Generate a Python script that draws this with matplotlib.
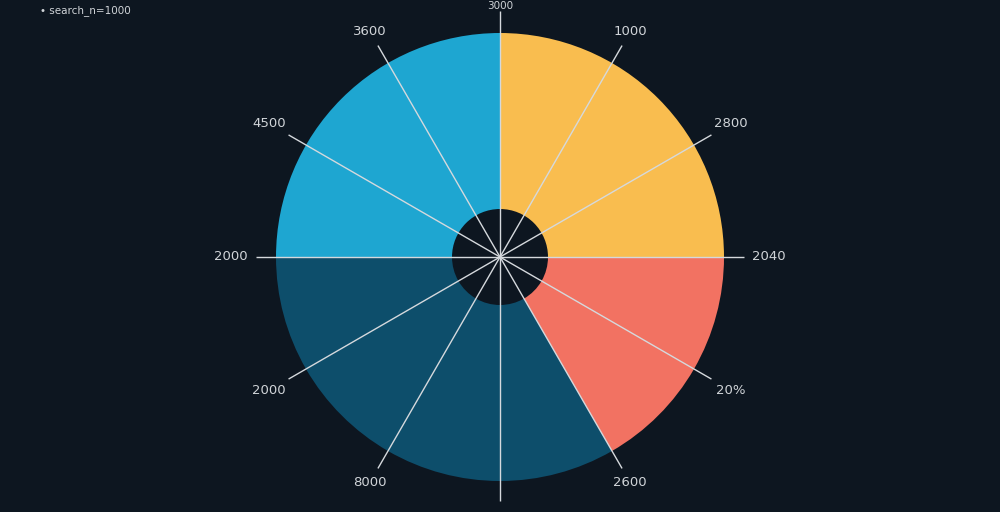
import numpy as np
import matplotlib
matplotlib.use("Agg")
import matplotlib.pyplot as plt

# ---- data ----
segment_values = [3, 4, 2, 3]          # blue, dark blue, salmon, yellow (counter-clockwise from top)
segment_colors = ["#1EA6D1", "#0D4E6B", "#F27262", "#F9BD4F"]
spoke_angles = [0, 30, 60, 90, 120, 150, 180, 210, 240, 270, 300, 330]
spoke_labels = ["2040", "2800", "1000", "3000", "3600", "4500",
                "2000", "2000", "8000", "", "2600", "20%"]
header_text = "• search_n=1000"

BG = "#0D1620"
LINE = "#D5D9DD"
TXT = "#D0D4D8"

fig = plt.figure(figsize=(10, 5.12), dpi=100, facecolor=BG)
ax = fig.add_axes([0, 0, 1, 1])
ax.set_facecolor(BG)

R = 224.0
ax.pie(segment_values, colors=segment_colors, startangle=90, counterclock=True,
       radius=1.0, center=(0, 0),
       wedgeprops=dict(width=1 - 48 / R, linewidth=0))

for ang, lab in zip(spoke_angles, spoke_labels):
    t = np.deg2rad(ang)
    end = 1.1 if ang == 90 else 1.09
    ax.plot([0, end * np.cos(t)], [0, end * np.sin(t)], color=LINE, lw=1.0,
            solid_capstyle="butt", zorder=5)
    if ang == 90:
        # top label sits against the upper edge of the figure
        ax.text(0, 256 / R, lab, color=TXT, fontsize=7.5,
                ha="center", va="top", zorder=6)
        continue
    rl = 1.19 if ang % 90 else 1.2
    if ang in (60, 120, 240, 300):
        rl = 1.16
    ax.text(rl * np.cos(t), rl * np.sin(t), lab, color=TXT, fontsize=9.5,
            ha="center", va="center", zorder=6)

ax.set_xlim(-500 / R, 500 / R)
ax.set_ylim(-255 / R, 257 / R)
ax.set_aspect("equal")
ax.axis("off")

fig.text(0.04, 0.98, header_text, color=TXT, fontsize=7.5, ha="left", va="center")

fig.savefig("out.png", dpi=100, facecolor=BG)
